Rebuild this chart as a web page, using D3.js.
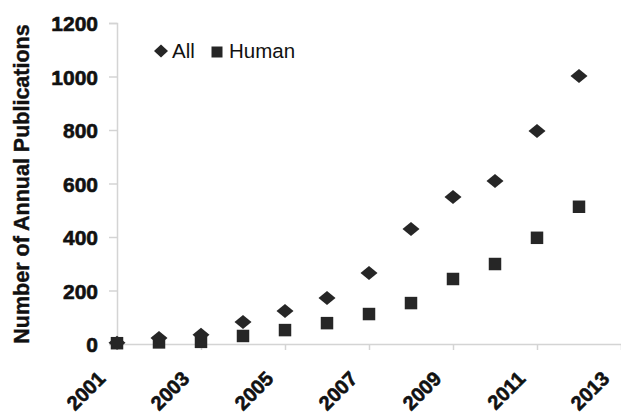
<!DOCTYPE html>
<html>
<head>
<meta charset="utf-8">
<script src="https://cdn.jsdelivr.net/npm/d3@7/dist/d3.min.js"></script>
<style>
  body { margin: 0; background: #fff; }
  text { font-family: "Liberation Sans", Arial, sans-serif; }
</style>
</head>
<body>
<div id="container"></div>
<script>
const years = [2001, 2002, 2003, 2004, 2005, 2006, 2007, 2008, 2009, 2010, 2011, 2012];
const allPubs = [5, 22, 35, 82, 123, 172, 265, 430, 550, 609, 796, 1002];
const humanPubs = [3, 6, 8, 30, 52, 78, 112, 153, 243, 299, 397, 513];
const xTicks = [2001, 2003, 2005, 2007, 2009, 2011, 2013];
const yTicks = [0, 200, 400, 600, 800, 1000, 1200];

const w = 621;
const h = 415;
const ink = "#262626";
const font = "Liberation Sans, Arial, sans-serif";

const svg = d3.select("#container")
  .append("svg")
  .attr("width", w)
  .attr("height", h);

const xScale = d3.scaleLinear().domain([2001, 2013]).range([117, 621]);
const yScale = d3.scaleLinear().domain([0, 1200]).range([344, 23]);

// y axis
const yAxis = svg.append("g")
  .attr("transform", "translate(117,0)")
  .call(d3.axisLeft(yScale).tickValues(yTicks).tickSize(8).tickPadding(11).tickFormat(d3.format("d")));
yAxis.select(".domain").attr("stroke", "#d4d4d4").attr("stroke-width", 1.5);
yAxis.selectAll(".tick line").attr("stroke", "#d4d4d4").attr("stroke-width", 1.5);
yAxis.selectAll("text")
  .attr("font-size", 21)
  .attr("font-weight", "bold")
  .attr("fill", "#111")
  .attr("stroke", "#111")
  .attr("stroke-width", 0.6)
  .attr("font-family", font)
  .attr("dy", "0.36em");

// x axis
const xAxis = svg.append("g")
  .attr("transform", "translate(0,344)")
  .call(d3.axisBottom(xScale).tickValues(xTicks).tickSize(6).tickSizeOuter(0).tickFormat(d3.format("d")));
xAxis.select(".domain").attr("stroke", "#d4d4d4").attr("stroke-width", 1.5);
xAxis.selectAll(".tick line").attr("stroke", "#d4d4d4").attr("stroke-width", 1.5);
xAxis.selectAll("text")
  .attr("font-size", 20)
  .attr("font-weight", "bold")
  .attr("fill", "#111")
  .attr("stroke", "#111")
  .attr("stroke-width", 0.6)
  .attr("font-family", font)
  .attr("text-anchor", "end")
  .attr("dy", 0)
  .attr("y", 0)
  .attr("transform", "translate(-11,36) rotate(-45)");

// y label
svg.append("text")
  .attr("transform", "translate(29,184) rotate(-90)")
  .attr("text-anchor", "middle")
  .attr("font-size", 21.5)
  .attr("font-weight", "bold")
  .attr("fill", "#111")
  .attr("stroke", "#111")
  .attr("stroke-width", 0.4)
  .text("Number of Annual Publications");

const diamond = "M-8.5,0L0,-7L8.5,0L0,7Z";
const square = d3.symbol().type(d3.symbolSquare).size(156);

svg.append("g").selectAll("path")
  .data(years)
  .enter()
  .append("path")
  .attr("d", square)
  .attr("transform", (d, i) => `translate(${xScale(d)},${yScale(humanPubs[i])})`)
  .attr("fill", ink);

svg.append("g").selectAll("path")
  .data(years)
  .enter()
  .append("path")
  .attr("d", diamond)
  .attr("transform", (d, i) => `translate(${xScale(d)},${yScale(allPubs[i])})`)
  .attr("fill", ink);

// legend
const legend = svg.append("g");
legend.append("path").attr("d", "M-7,0L0,-6.5L7,0L0,6.5Z").attr("transform", "translate(161,51)").attr("fill", ink);
legend.append("text").attr("x", 172).attr("y", 58).attr("font-size", 20.5).attr("fill", "#111").text("All");
legend.append("path").attr("d", d3.symbol().type(d3.symbolSquare).size(121)).attr("transform", "translate(217,52)").attr("fill", ink);
legend.append("text").attr("x", 229).attr("y", 58).attr("font-size", 20.5).attr("fill", "#111").text("Human");
</script>
</body>
</html>
